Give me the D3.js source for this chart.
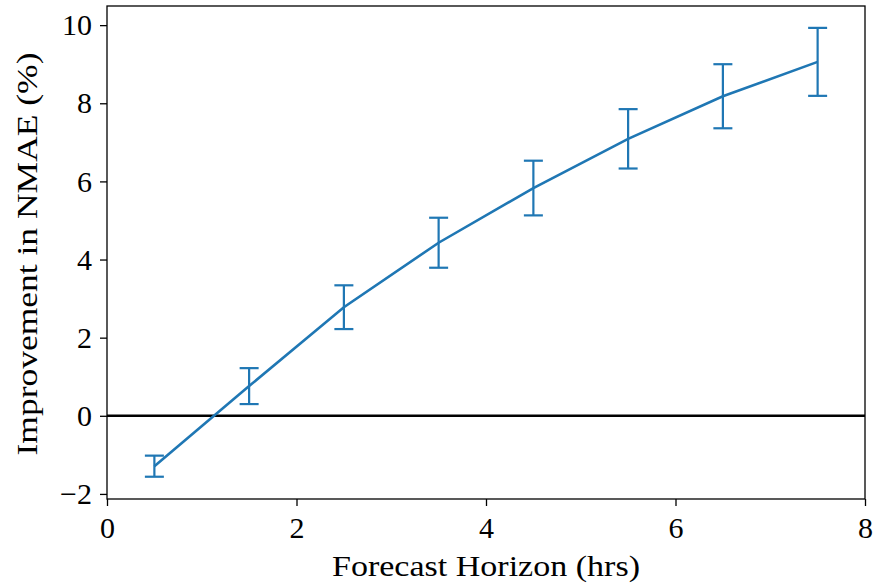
<!DOCTYPE html>
<html><head><meta charset="utf-8">
<script src="https://cdn.jsdelivr.net/npm/d3@7"></script>
<style>body{margin:0;background:#fff}svg{display:block}text{font-family:"Liberation Serif","DejaVu Serif",serif;fill:#000}</style>
</head><body><svg id="c" width="875" height="585"></svg>
<script>
const horizons = [0.5, 1.5, 2.5, 3.5, 4.5, 5.5, 6.5, 7.5];
const improvement = [-1.29, 0.76, 2.78, 4.43, 5.83, 7.09, 8.18, 9.06];
const errors = [0.27, 0.46, 0.56, 0.64, 0.70, 0.76, 0.82, 0.87];
const xTicks = [0, 2, 4, 6, 8];
const yTicks = [-2, 0, 2, 4, 6, 8, 10];
const xLabel = "Forecast Horizon (hrs)";
const yLabel = "Improvement in NMAE (%)";

const svg = d3.select("#c");
const L = 107, R = 865, T = 6, B = 499;
const x = d3.scaleLinear().domain([0, 8]).range([L, R]);
const y = d3.scaleLinear().domain([-2.13, 10.49]).range([B, T]);
const color = "#1f77b4";
const fmt = d => d < 0 ? "\u2212" + Math.abs(d) : String(d);

// zero line
svg.append("line").attr("x1", L).attr("x2", R).attr("y1", y(0)).attr("y2", y(0))
  .attr("stroke", "#000").attr("stroke-width", 2.5);

// line
svg.append("path").datum(horizons.map((h, i) => [h, improvement[i]]))
  .attr("d", d3.line().x(d => x(d[0])).y(d => y(d[1])))
  .attr("fill", "none").attr("stroke", color).attr("stroke-width", 2.6);

// error bars
const eg = svg.append("g").attr("stroke", color).attr("stroke-width", 2.2);
horizons.forEach((h, i) => {
  const lo = improvement[i] - errors[i], hi = improvement[i] + errors[i];
  eg.append("line").attr("x1", x(h)).attr("x2", x(h)).attr("y1", y(lo)).attr("y2", y(hi));
  [lo, hi].forEach(v => eg.append("line").attr("x1", x(h) - 9.5).attr("x2", x(h) + 9.5).attr("y1", y(v)).attr("y2", y(v)));
});

// axes
const xa = svg.append("g").attr("transform", `translate(0,${B})`)
  .call(d3.axisBottom(x).tickValues(xTicks).tickFormat(fmt).tickSize(7).tickPadding(11));
const ya = svg.append("g").attr("transform", `translate(${L},0)`)
  .call(d3.axisLeft(y).tickValues(yTicks).tickFormat(fmt).tickSize(7).tickPadding(8));
[xa, ya].forEach(a => {
  a.select(".domain").remove();
  a.selectAll(".tick line").attr("stroke", "#000").attr("stroke-width", 1.3);
  a.selectAll(".tick text").style("font-size", "30px").attr("fill", "#000");
});

// frame
svg.append("rect").attr("x", L).attr("y", T).attr("width", R - L).attr("height", B - T)
  .attr("fill", "none").attr("stroke", "#000").attr("stroke-width", 1.3);

svg.append("text").attr("x", (L + R) / 2).attr("y", 576).attr("text-anchor", "middle")
  .attr("textLength", 308).attr("lengthAdjust", "spacingAndGlyphs")
  .style("font-size", "30px").text(xLabel);
svg.append("text").attr("transform", `translate(37,254) rotate(-90)`)
  .attr("text-anchor", "middle").attr("textLength", 403).attr("lengthAdjust", "spacingAndGlyphs")
  .style("font-size", "30px").text(yLabel);
</script></body></html>
